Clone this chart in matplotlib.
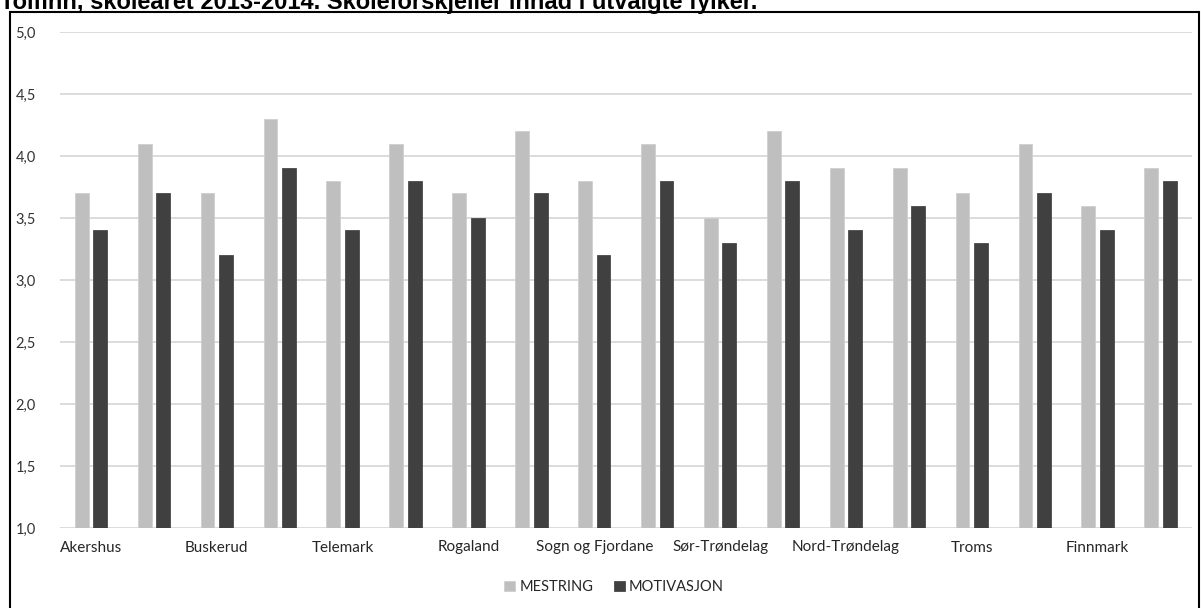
import numpy as np
import matplotlib
matplotlib.use("Agg")
import matplotlib.pyplot as plt
from matplotlib.patches import Rectangle
from matplotlib.ticker import FuncFormatter

# two schools per county: only the first of each pair is labelled
categories = ["Akershus", "", "Buskerud", "", "Telemark", "", "Rogaland", "",
              "Sogn og Fjordane", "", "Sør-Trøndelag", "", "Nord-Trøndelag", "",
              "Troms", "", "Finnmark", ""]
mestring = [3.7, 4.1, 3.7, 4.3, 3.8, 4.1, 3.7, 4.2, 3.8, 4.1,
            3.5, 4.2, 3.9, 3.9, 3.7, 4.1, 3.6, 3.9]
motivasjon = [3.4, 3.7, 3.2, 3.9, 3.4, 3.8, 3.5, 3.7, 3.2, 3.8,
              3.3, 3.8, 3.4, 3.6, 3.3, 3.7, 3.4, 3.8]
series_names = ["MESTRING", "MOTIVASJON"]
title = "Tolfinn, skoleåret 2013-2014. Skoleforskjeller innad i utvalgte fylker."

W, H = 1201, 608
fig = plt.figure(figsize=(W / 100, H / 100), dpi=100)
ax = fig.add_axes([59.5 / W, 1 - 528 / H, (1192 - 59.5) / W, (528 - 32) / H])

x = np.arange(len(categories))
bw = 0.22
off = 0.147
ax.bar(x - off, mestring, bw, color="#BFBFBF", edgecolor="#CFCFCF",
       linewidth=0.6, label=series_names[0], zorder=3)
ax.bar(x + off, motivasjon, bw, color="#404040", edgecolor="#4A4A4A",
       linewidth=0.6, label=series_names[1], zorder=3)

ax.set_xlim(-0.5, len(categories) - 0.5)
ax.set_ylim(1.0, 5.0)
ax.set_yticks(np.arange(1.0, 5.01, 0.5))
ax.yaxis.set_major_formatter(FuncFormatter(lambda v, p: f"{v:.1f}".replace(".", ",")))
ax.grid(axis="y", color="#D9D9D9", linewidth=1.3, zorder=0)
ax.set_axisbelow(True)

ax.set_xticks(x)
ax.set_xticklabels(categories, family="Lato", fontsize=11, color="#262626")
for lbl in ax.get_yticklabels():
    lbl.set_family("Lato")
    lbl.set_fontsize(10.5)
    lbl.set_color("#333333")
ax.tick_params(axis="x", length=0, pad=9)
ax.tick_params(axis="y", length=0, pad=17)
for s in ax.spines.values():
    s.set_visible(False)

leg = fig.legend(loc="center", bbox_to_anchor=(614 / W, 1 - 587 / H), ncol=2,
                 frameon=False, handlelength=0.75, handleheight=0.75,
                 handletextpad=0.3, columnspacing=1.4,
                 prop={"family": "Lato", "size": 10.5})
for t in leg.get_texts():
    t.set_color("#262626")

# outer frame, bottom edge pushed off the canvas
fig.add_artist(Rectangle((9.5 / W, -0.1), (1199 - 9.5) / W, 1.1 - 12 / H,
                         transform=fig.transFigure, fill=False,
                         edgecolor="black", linewidth=1.5))

# title is clipped by the top of the picture, as in the source
fig.text(0.0, 1 - 9 / H, title, ha="left", va="baseline",
         family="Liberation Sans", weight="bold", fontsize=17)

fig.savefig("out.png", dpi=100)
